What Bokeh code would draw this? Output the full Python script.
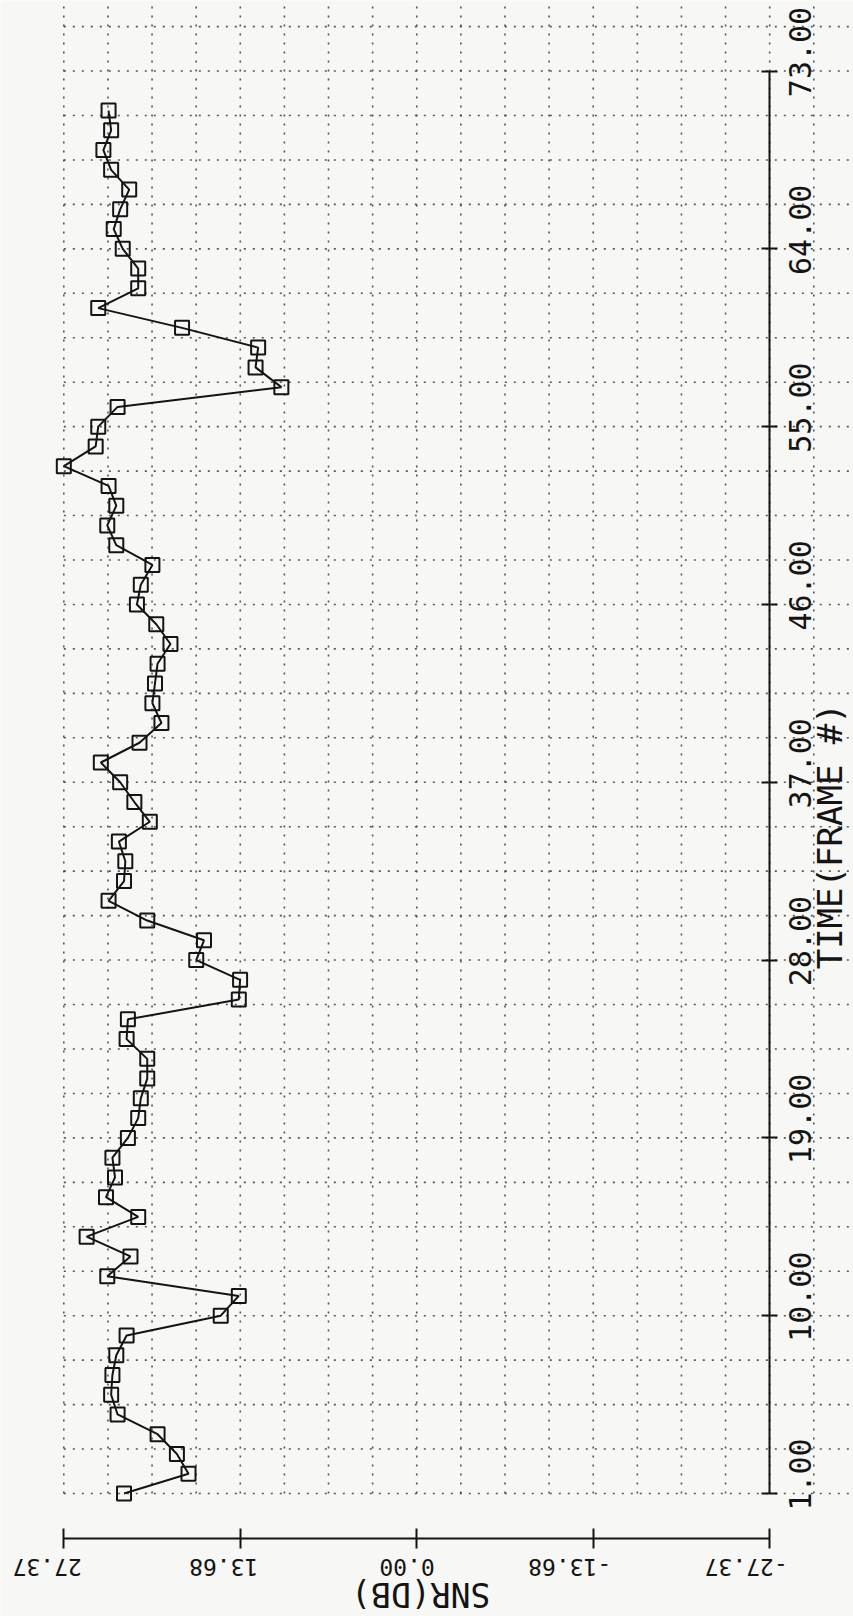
import math

import numpy as np
from bokeh.embed import file_html
from bokeh.models import FixedTicker, Label, LinearAxis, Range1d
from bokeh.plotting import figure
from bokeh.resources import INLINE

# Segmental SNR per frame
frames = list(range(1, 72))
snr_db = [
    22.7, 17.7, 18.6, 20.1, 23.2, 23.7, 23.6, 23.3, 22.5, 15.2,
    13.8, 24.0, 22.2, 25.6, 21.6, 24.1, 23.4, 23.6, 22.4, 21.6,
    21.4, 20.9, 20.9, 22.5, 22.4, 13.8, 13.7, 17.1, 16.5, 20.9,
    23.9, 22.7, 22.6, 23.1, 20.7, 21.9, 23.0, 24.5, 21.5, 19.8,
    20.5, 20.3, 20.1, 19.1, 20.2, 21.7, 21.4, 20.5, 23.3, 24.0,
    23.3, 23.9, 27.37, 24.9, 24.7, 23.2, 10.5, 12.5, 12.3, 18.2,
    24.7, 21.6, 21.6, 22.8, 23.5, 23.0, 22.3, 23.7, 24.3, 23.7,
    23.9,
]

snr_ticks = [27.37, 13.685, 0.0, -13.685, -27.37]
snr_tick_labels = ["27.37", "13.68", "0.00", "-13.68", "-27.37"]
time_ticks = [1, 10, 19, 28, 37, 46, 55, 64, 73]
time_tick_labels = ["1.00", "10.00", "19.00", "28.00", "37.00",
                    "46.00", "55.00", "64.00", "73.00"]
snr_title = "SNR(DB)"
time_title = "TIME(FRAME #)"

FONT = "DejaVu Sans Mono"
INK = "#141414"
PAPER = "#f7f7f5"

snr_lo, snr_hi = snr_ticks[-1], snr_ticks[0]
t_lo, t_hi = time_ticks[0], time_ticks[-1]
axis_y = -1.28  # SNR axis sits a little below the first frame

X0, X1 = 32.28, -33.87
Y0, Y1 = -5.226, 76.57

p = figure(
    width=853, height=1616,
    x_range=Range1d(X0, X1), y_range=Range1d(Y0, Y1),
    output_backend="svg", toolbar_location=None,
    x_axis_location="below", y_axis_location=None,
    min_border_left=0, min_border_right=0,
    min_border_top=0, min_border_bottom=0,
    background_fill_color=PAPER, border_fill_color=PAPER,
)
p.outline_line_color = None
p.grid.visible = False

# dotted paper grid: 4 cells per SNR tick step, 4 cells per 9 frames
x_step = (snr_hi - snr_lo) / 16
y_step = (time_ticks[1] - time_ticks[0]) / 4
gx = [float(v) for v in snr_hi - x_step * np.arange(0, 18)]
gy = [float(v) for v in t_lo + y_step * np.arange(0, 34)]
grid_style = dict(line_color="#3a3a3a", line_dash="2 7",
                  line_width=1.6, line_alpha=0.85)
p.segment(x0=gx, y0=[t_lo] * len(gx), x1=gx, y1=[Y1] * len(gx),
          **grid_style)
p.segment(x0=[snr_hi] * len(gy), y0=gy, x1=[X1] * len(gy), y1=gy,
          **grid_style)

# SNR axis (horizontal)
xa = p.xaxis[0]
xa.ticker = FixedTicker(ticks=snr_ticks, minor_ticks=[])
xa.bounds = (snr_lo, snr_hi)
xa.fixed_location = axis_y
xa.axis_line_color = INK
xa.axis_line_width = 2
xa.major_tick_line_color = INK
xa.major_tick_line_width = 2
xa.major_tick_in = 10
xa.major_tick_out = 10
xa.minor_tick_line_color = None
xa.major_label_text_color = None

# TIME axis (vertical)
ya = LinearAxis(
    ticker=FixedTicker(ticks=time_ticks, minor_ticks=[]),
    fixed_location=snr_lo, bounds=(t_lo, t_hi),
    axis_line_color=INK, axis_line_width=2,
    major_tick_line_color=INK, major_tick_line_width=2,
    major_tick_in=8, major_tick_out=8,
    minor_tick_line_color=None, major_label_text_color=None,
)
p.add_layout(ya, "right")

# series
p.line(snr_db, frames, line_color=INK, line_width=2)
p.scatter(snr_db, frames, marker="square", size=14,
          fill_color=None, line_color=INK, line_width=2)

# tick labels
for t, txt in zip(snr_ticks, snr_tick_labels):
    p.add_layout(Label(
        x=t, y=axis_y, x_offset=18, y_offset=-29, text=txt,
        angle=math.pi, text_align="left", text_baseline="middle",
        text_font=FONT, text_font_size="23px", text_color=INK,
    ))
for t, txt in zip(time_ticks, time_tick_labels):
    p.add_layout(Label(
        x=snr_lo, y=t, x_offset=30, y_offset=19, text=txt,
        angle=math.pi / 2, text_align="center", text_baseline="middle",
        text_font=FONT, text_font_size="30px", text_color=INK,
    ))

# axis titles
p.add_layout(Label(
    x=(snr_lo + snr_hi) / 2, y=axis_y, x_offset=4, y_offset=-56,
    text=snr_title, angle=math.pi, text_align="center",
    text_baseline="middle", text_font=FONT,
    text_font_size="33px", text_color=INK,
))
p.add_layout(Label(
    x=snr_lo, y=(t_lo + t_hi) / 2, x_offset=60, y_offset=-54,
    text=time_title, angle=math.pi / 2, text_align="center",
    text_baseline="middle", text_font=FONT,
    text_font_size="34px", text_color=INK,
))

open("out.html", "w").write(file_html(p, INLINE))
